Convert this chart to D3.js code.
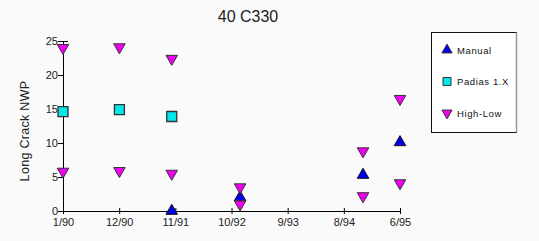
<!DOCTYPE html>
<html>
<head>
<meta charset="utf-8">
<script src="https://cdn.jsdelivr.net/npm/d3@7"></script>
<style>
  body { margin: 0; background: #fafafa; }
  svg { display: block; font-family: "Liberation Sans", Arial, sans-serif; }
</style>
</head>
<body>
<div id="chart"></div>
<script>
// Data
let title = "40 C330";
let yLabel = "Long Crack NWP";
let xTickLabels = ["1/90", "12/90", "11/91", "10/92", "9/93", "8/94", "6/95"];
let yTicks = [0, 5, 10, 15, 20, 25];

let manualDates = ["1991-10-01", "1992-11-05", "1994-10-27", "1995-06-01"];
let manualValues = [0, 2.0, 5.3, 10.1];

let padiasDates = ["1990-01-01", "1990-11-28", "1991-10-01"];
let padiasValues = [14.6, 14.9, 13.9];

let highLowDates = ["1990-01-01", "1990-11-28", "1991-10-01", "1992-11-05", "1994-10-27", "1995-06-01"];
let highValues = [24.0, 24.1, 22.4, 3.5, 8.8, 16.5];
let lowValues = [5.8, 5.9, 5.5, 1.0, 2.2, 4.1];

let legendNames = ["Manual", "Padias 1.X", "High-Low"];

const parse = d3.timeParse("%Y-%m-%d");
const width = 539, height = 241;

let svg = d3.select("#chart")
  .append("svg")
  .attr("width", width)
  .attr("height", height);

svg.append("rect")
  .attr("width", width)
  .attr("height", height)
  .attr("fill", "#fafafa");

// Scales
let x = d3.scaleTime()
  .domain([parse("1990-01-01"), parse("1995-06-01")])
  .range([63, 400]);
let y = d3.scaleLinear()
  .domain([0, 25])
  .range([211, 41]);

// ticks evenly spaced along the date axis, labelled as in the original
// (interpolateDate reuses one Date object, so copy each value)
let dateAt = d3.interpolateDate(x.domain()[0], x.domain()[1]);
let xTickDates = xTickLabels.map((d, i) => new Date(+dateAt(i / (xTickLabels.length - 1))));

// X axis
let xAxis = svg.append("g")
  .attr("transform", `translate(0,${y(0)})`)
  .call(d3.axisBottom(x)
    .tickValues(xTickDates)
    .tickFormat((d, i) => xTickLabels[i])
    .tickSize(3)
    .tickSizeOuter(0));
xAxis.select(".domain").attr("stroke", "#000");
xAxis.selectAll(".tick line").attr("y1", -3).attr("stroke", "#000");
xAxis.selectAll(".tick text")
  .attr("y", 7)
  .attr("font-size", 11)
  .attr("fill", "#222");

// Y axis
let yAxis = svg.append("g")
  .attr("transform", `translate(${x.range()[0]},0)`)
  .call(d3.axisLeft(y)
    .tickValues(yTicks)
    .tickSize(5)
    .tickSizeOuter(0));
yAxis.select(".domain").attr("stroke", "#000");
yAxis.selectAll(".tick line").attr("stroke", "#000");
yAxis.selectAll(".tick")
  .filter(d => d === 25)
  .select("line")
  .attr("x2", 5)
  .attr("x1", -5);
yAxis.selectAll(".tick text")
  .attr("x", -5)
  .attr("font-size", 11)
  .attr("fill", "#222");

// Title and axis label
svg.append("text")
  .attr("x", 248)
  .attr("y", 22)
  .attr("text-anchor", "middle")
  .attr("font-size", 16)
  .attr("fill", "#222")
  .text(title);

svg.append("text")
  .attr("transform", "translate(29,131) rotate(-90)")
  .attr("text-anchor", "middle")
  .attr("font-size", 12.5)
  .attr("letter-spacing", 0.3)
  .attr("fill", "#222")
  .text(yLabel);

// Marker shapes
let upTri = d3.symbol().type(d3.symbolTriangle).size(58)();
let square = d3.symbol().type(d3.symbolSquare).size(100)();

let highLow = highLowDates.flatMap((d, i) => [
  { date: parse(d), value: highValues[i] },
  { date: parse(d), value: lowValues[i] }
]);
let padias = padiasDates.map((d, i) => ({ date: parse(d), value: padiasValues[i] }));
let manual = manualDates.map((d, i) => ({ date: parse(d), value: manualValues[i] }));

svg.append("g")
  .selectAll("path")
  .data(padias)
  .join("path")
  .attr("d", square)
  .attr("fill", "#00e8e8")
  .attr("stroke", "#333")
  .attr("stroke-width", 1.3)
  .attr("transform", d => `translate(${x(d.date)},${y(d.value)})`);

svg.append("g")
  .selectAll("path")
  .data(manual)
  .join("path")
  .attr("d", upTri)
  .attr("fill", "#0000f0")
  .attr("stroke", "#111")
  .attr("stroke-width", 1)
  .attr("transform", d => `translate(${x(d.date)},${y(d.value)})`);

svg.append("g")
  .selectAll("path")
  .data(highLow)
  .join("path")
  .attr("d", upTri)
  .attr("fill", "#f000f0")
  .attr("stroke", "#333")
  .attr("stroke-width", 1)
  .attr("transform", d => `translate(${x(d.date)},${y(d.value)}) rotate(180)`);

// Legend
let legend = svg.append("g").attr("transform", "translate(431,32)");
legend.append("rect")
  .attr("x", 0.5)
  .attr("y", 0.5)
  .attr("width", 85)
  .attr("height", 100)
  .attr("fill", "#fff")
  .attr("stroke", "#111");
legend.append("line")
  .attr("x1", 85.5).attr("x2", 85.5)
  .attr("y1", 0.5).attr("y2", 100.5)
  .attr("stroke", "#999")
  .attr("stroke-width", 1.5);

let legendMarks = [
  { fill: "#0000f0", rot: 0 },
  { fill: "#00e8e8", rot: 0 },
  { fill: "#f000f0", rot: 180 }
];

let items = legend.selectAll(".item")
  .data(legendNames)
  .join("g")
  .attr("class", "item")
  .attr("transform", (d, i) => `translate(16,${18 + i * 31.5})`);

items.append("path")
  .attr("d", (d, i) => i === 1 ? d3.symbol().type(d3.symbolSquare).size(64)() : d3.symbol().type(d3.symbolTriangle).size(45)())
  .attr("fill", (d, i) => legendMarks[i].fill)
  .attr("stroke", "#333")
  .attr("transform", (d, i) => `rotate(${legendMarks[i].rot})`);

items.append("text")
  .attr("x", 10)
  .attr("y", 3.5)
  .attr("font-size", 9.5)
  .attr("letter-spacing", 0.6)
  .attr("fill", "#111")
  .text(d => d);
</script>
</body>
</html>
